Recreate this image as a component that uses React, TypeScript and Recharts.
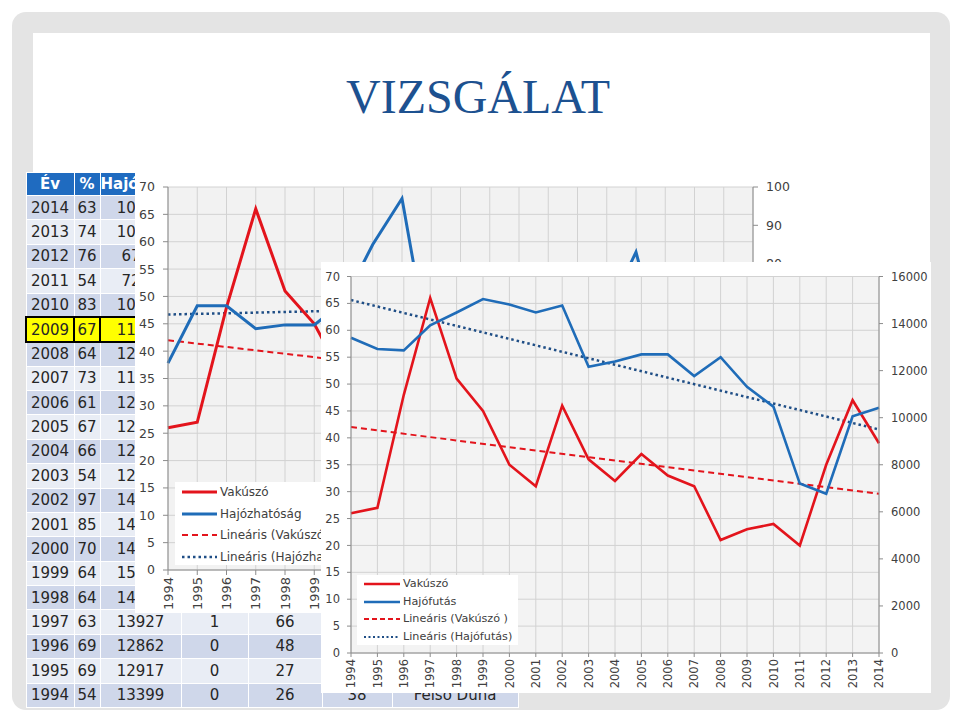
import React from "react";
import { LineChart, Line, XAxis, YAxis, CartesianGrid } from "recharts";

const FONT = '"DejaVu Sans", sans-serif';

const years = [
  "1994", "1995", "1996", "1997", "1998", "1999", "2000",
  "2001", "2002", "2003", "2004", "2005", "2006", "2007",
  "2008", "2009", "2010", "2011", "2012", "2013", "2014",
];
// Vakúszó (days)
const vakuszo = [26, 27, 48, 66, 51, 45, 35, 31, 46, 36, 32, 37, 33, 31, 21, 23, 24, 20, 35, 47, 39];
// Hajózhatóság (%)
const hajozhatosag = [54, 69, 69, 63, 64, 64, 70, 85, 97, 54, 66, 67, 61, 73, 64, 67, 83, 54, 76, 74, 63];
// Hajófutás (count)
const hajofutas = [
  13399, 12917, 12862, 13927, 14470, 15040, 14810, 14470, 14770, 12160, 12390,
  12690, 12690, 11770, 12570, 11310, 10470, 7200, 6770, 10060, 10420,
];
// other table columns (only the visible cells)
const negyedik = [0, 0, 0, 1];
const hatodik = [38];
const szakasz = ["Felső Duna"];

// trend line end values (1994, 2014)
const vakTrend = [42, 29.6];
const hajozhTrend = [66.7, 70.1];
const hajofTrend = [15000, 9500];

const leftTicks = [0, 5, 10, 15, 20, 25, 30, 35, 40, 45, 50, 55, 60, 65, 70];
const backRightTicks = [0, 10, 20, 30, 40, 50, 60, 70, 80, 90, 100];
const frontRightTicks = [0, 2000, 4000, 6000, 8000, 10000, 12000, 14000, 16000];

const tableHeader = ["Év", "%", "Hajófutás", "", "", "", ""];
const colWidths = [48, 26, 81, 67, 74, 70, 126];

const RED = "#e3141c";
const BLUE = "#1f6cb8";
const NAVY = "#1f4e86";

const last = years.length - 1;
const chartData = years.map((year, i) => ({
  year,
  vak: vakuszo[i],
  hajozh: hajozhatosag[i],
  hajof: hajofutas[i],
  vakTrend: i === 0 ? vakTrend[0] : i === last ? vakTrend[1] : null,
  hajozhTrend: i === 0 ? hajozhTrend[0] : i === last ? hajozhTrend[1] : null,
  hajofTrend: i === 0 ? hajofTrend[0] : i === last ? hajofTrend[1] : null,
}));

function YearTick(props: any) {
  const { x, y, payload, fontSize } = props;
  return (
    <text
      x={x}
      y={y}
      transform={`rotate(-90, ${x}, ${y})`}
      textAnchor="end"
      dy="0.36em"
      fill="#404040"
      fontSize={fontSize}
      fontFamily={FONT}
    >
      {payload.value}
    </text>
  );
}

type LegendItem = { label: string; color: string; dash?: string; width: number };

function LegendBox({
  items, left, top, width, height, rowTop, rowGap, fontSize, lineX, lineW, textX,
}: {
  items: LegendItem[]; left: number; top: number; width: number; height: number;
  rowTop: number; rowGap: number; fontSize: number; lineX: number; lineW: number; textX: number;
}) {
  return (
    <div style={{ position: "absolute", left, top, width, height, background: "#fff" }}>
      {items.map((it, i) => (
        <div key={i} style={{ position: "absolute", left: 0, top: rowTop + i * rowGap - 9, height: 18, width: width + 60 }}>
          <svg width={lineW} height={18} style={{ position: "absolute", left: lineX, top: 0 }}>
            <line x1={0} y1={9} x2={lineW} y2={9} stroke={it.color} strokeWidth={it.width} strokeDasharray={it.dash} />
          </svg>
          <span
            style={{
              position: "absolute", left: textX, top: 0, lineHeight: "18px", fontSize,
              fontFamily: FONT, color: "#404040", whiteSpace: "nowrap",
            }}
          >
            {it.label}
          </span>
        </div>
      ))}
    </div>
  );
}

function DataTable() {
  const rows = [...years].reverse();
  return (
    <table
      style={{
        position: "absolute", left: 25, top: 172, borderCollapse: "collapse",
        tableLayout: "fixed", width: 492, fontFamily: FONT, fontSize: 15, color: "#262626",
      }}
    >
      <colgroup>
        {colWidths.map((w, i) => <col key={i} style={{ width: w }} />)}
      </colgroup>
      <tbody>
        <tr style={{ height: 23 }}>
          {tableHeader.map((h, i) => (
            <td key={i} style={{ background: "#1f6bc0", color: "#fff", fontWeight: "bold", textAlign: "center", border: "1px solid #fff", padding: 0, whiteSpace: "nowrap", overflow: "hidden" }}>
              {h}
            </td>
          ))}
        </tr>
        {rows.map((y, r) => {
          const i = years.indexOf(y);
          const yellow = y === "2009";
          const bg = yellow ? "#ffff00" : r % 2 === 0 ? "#cfd7ea" : "#e9edf5";
          const border = yellow ? "2px solid #000" : "1px solid #fff";
          const cells = [
            y,
            hajozhatosag[i],
            hajofutas[i],
            negyedik[i] ?? "",
            i < 4 ? vakuszo[i] : "",
            hatodik[i] ?? "",
            szakasz[i] ?? "",
          ];
          return (
            <tr key={y} style={{ height: 24.38 }}>
              {cells.map((c, k) => (
                <td key={k} style={{ background: bg, border, textAlign: "center", padding: 0, whiteSpace: "nowrap", overflow: "hidden" }}>
                  {c}
                </td>
              ))}
            </tr>
          );
        })}
      </tbody>
    </table>
  );
}

export default function App() {
  return (
    <div style={{ position: "absolute", left: 0, top: 0, width: 960, height: 720, background: "#fff", overflow: "hidden" }}>
      <div style={{ position: "absolute", left: 12, top: 12, width: 938, height: 698, background: "#e4e4e4", borderRadius: 14 }} />
      <div style={{ position: "absolute", left: 33, top: 33, width: 897, height: 660, background: "#fff" }} />
      <div
        style={{
          position: "absolute", left: 0, top: 73, width: 956, textAlign: "center",
          fontFamily: '"Liberation Serif", serif', fontSize: 48, lineHeight: "48px", color: "#1d5190",
        }}
      >
        VIZSGÁLAT
      </div>

      <DataTable />

      {/* back chart */}
      <div style={{ position: "absolute", left: 135, top: 172, width: 658, height: 441, background: "#fff" }}>
        <LineChart width={658} height={441} data={chartData} margin={{ top: 15, right: 0, bottom: 0, left: 0 }}>
          <CartesianGrid yAxisId="left" stroke="#d2d2d2" fill="#f2f2f2" />
          <XAxis
            dataKey="year"
            interval={0}
            height={43}
            tickSize={5}
            axisLine={{ stroke: "#8c8c8c" }}
            tickLine={{ stroke: "#8c8c8c" }}
            tick={(p: any) => <YearTick {...p} fontSize={13} />}
          />
          <YAxis
            yAxisId="left"
            width={33}
            domain={[0, 70]}
            ticks={leftTicks}
            tickSize={5}
            tickMargin={8}
            axisLine={{ stroke: "#8c8c8c" }}
            tickLine={{ stroke: "#8c8c8c" }}
            tick={{ fill: "#404040", fontSize: 12.5, fontFamily: FONT }}
          />
          <YAxis
            yAxisId="right"
            orientation="right"
            width={40}
            domain={[0, 100]}
            ticks={backRightTicks}
            tickSize={5}
            tickMargin={8}
            axisLine={{ stroke: "#8c8c8c" }}
            tickLine={{ stroke: "#8c8c8c" }}
            tick={{ fill: "#404040", fontSize: 12.5, fontFamily: FONT }}
          />
          <Line yAxisId="left" dataKey="vakTrend" stroke={RED} strokeWidth={2} strokeDasharray="6 4" dot={false} activeDot={false} connectNulls isAnimationActive={false} />
          <Line yAxisId="right" dataKey="hajozhTrend" stroke={NAVY} strokeWidth={2.5} strokeDasharray="2.5 3" dot={false} activeDot={false} connectNulls isAnimationActive={false} />
          <Line yAxisId="left" dataKey="vak" stroke={RED} strokeWidth={3} dot={false} activeDot={false} isAnimationActive={false} />
          <Line yAxisId="right" dataKey="hajozh" stroke={BLUE} strokeWidth={3} dot={false} activeDot={false} isAnimationActive={false} />
        </LineChart>
        <LegendBox
          left={40}
          top={310}
          width={160}
          height={83}
          rowTop={10}
          rowGap={21.7}
          fontSize={12}
          lineX={7}
          lineW={35}
          textX={45}
          items={[
            { label: "Vakúszó", color: RED, width: 3 },
            { label: "Hajózhatóság", color: BLUE, width: 3 },
            { label: "Lineáris (Vakúszó )", color: RED, width: 2, dash: "6 4" },
            { label: "Lineáris (Hajózhatóság)", color: NAVY, width: 2.5, dash: "2.5 3" },
          ]}
        />
      </div>

      {/* front chart */}
      <div style={{ position: "absolute", left: 321, top: 262, width: 610, height: 431, background: "#fff" }}>
        <LineChart width={610} height={431} data={chartData} margin={{ top: 14.5, right: 0, bottom: 0, left: 0 }}>
          <CartesianGrid yAxisId="left" stroke="#d2d2d2" fill="#f3f3f3" />
          <XAxis
            dataKey="year"
            interval={0}
            height={40}
            tickSize={4}
            axisLine={{ stroke: "#8c8c8c" }}
            tickLine={{ stroke: "#8c8c8c" }}
            tick={(p: any) => <YearTick {...p} fontSize={11.5} />}
          />
          <YAxis
            yAxisId="left"
            width={30}
            domain={[0, 70]}
            ticks={leftTicks}
            tickSize={4}
            tickMargin={7}
            axisLine={{ stroke: "#8c8c8c" }}
            tickLine={{ stroke: "#8c8c8c" }}
            tick={{ fill: "#404040", fontSize: 11.5, fontFamily: FONT }}
          />
          <YAxis
            yAxisId="right"
            orientation="right"
            width={52}
            domain={[0, 16000]}
            ticks={frontRightTicks}
            tickSize={4}
            tickMargin={8}
            axisLine={{ stroke: "#8c8c8c" }}
            tickLine={{ stroke: "#8c8c8c" }}
            tick={{ fill: "#404040", fontSize: 11.5, fontFamily: FONT }}
          />
          <Line yAxisId="left" dataKey="vakTrend" stroke={RED} strokeWidth={2} strokeDasharray="6 4" dot={false} activeDot={false} connectNulls isAnimationActive={false} />
          <Line yAxisId="right" dataKey="hajofTrend" stroke={NAVY} strokeWidth={2.5} strokeDasharray="2.5 3" dot={false} activeDot={false} connectNulls isAnimationActive={false} />
          <Line yAxisId="left" dataKey="vak" stroke={RED} strokeWidth={2.6} dot={false} activeDot={false} isAnimationActive={false} />
          <Line yAxisId="right" dataKey="hajof" stroke={BLUE} strokeWidth={2.6} dot={false} activeDot={false} isAnimationActive={false} />
        </LineChart>
        <LegendBox
          left={36}
          top={313}
          width={161}
          height={70}
          rowTop={9}
          rowGap={17.5}
          fontSize={11.2}
          lineX={7}
          lineW={36}
          textX={46}
          items={[
            { label: "Vakúszó", color: RED, width: 2.6 },
            { label: "Hajófutás", color: BLUE, width: 2.6 },
            { label: "Lineáris (Vakúszó )", color: RED, width: 2, dash: "5 3" },
            { label: "Lineáris (Hajófutás)", color: NAVY, width: 2.2, dash: "2 2.5" },
          ]}
        />
      </div>
    </div>
  );
}
